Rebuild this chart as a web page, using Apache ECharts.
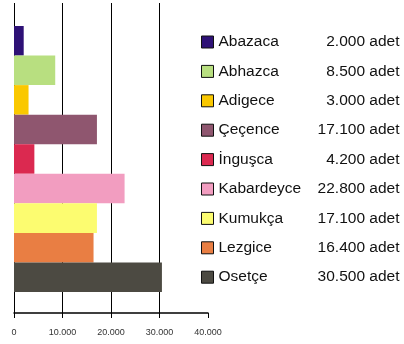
<!DOCTYPE html>
<html>
<head>
<meta charset="utf-8">
<script src="https://cdn.jsdelivr.net/npm/echarts@6/dist/echarts.min.js"></script>
<style>html,body{margin:0;padding:0;background:#fff}#c{width:404px;height:344px}</style>
</head>
<body>
<div id="c"></div>
<script>
const categories = ["Abazaca","Abhazca","Adigece","Çeçence","İnguşca","Kabardeyce","Kumukça","Lezgice","Osetçe"];
const values = [2000, 8500, 3000, 17100, 4200, 22800, 17100, 16400, 30500];
const valueLabels = ["2.000 adet","8.500 adet","3.000 adet","17.100 adet","4.200 adet","22.800 adet","17.100 adet","16.400 adet","30.500 adet"];
const colors = ["#2e1176","#b8df80","#fac800","#8f566f","#db2950","#f29dc0","#fcfc70","#e97e43","#4c4a42"];
const tickLabels = {0:"0",10000:"10.000",20000:"20.000",30000:"30.000",40000:"40.000"};

const chart = echarts.init(document.getElementById('c'));
const series = categories.map((name, i) => ({
  name: name,
  type: 'bar',
  xAxisIndex: 1,
  yAxisIndex: 1,
  stack: 'all',
  barWidth: '100%',
  itemStyle: { color: colors[i] },
  data: categories.map((c, j) => j === i ? values[i] : '-'),
  silent: true
}));

chart.setOption({
  animation: false,
  color: colors,
  grid: [
    { left: 14, right: 196, top: 3, height: 310 },
    { left: 14, right: 196, top: 26, height: 266 }
  ],
  xAxis: [
    {
      gridIndex: 0, type: 'value', min: 0, max: 40000, interval: 10000,
      axisLine: { show: true, lineStyle: { color: '#000', width: 1.5 } },
      axisTick: { show: true, length: 5, lineStyle: { color: '#000' } },
      axisLabel: { margin: 15, fontFamily: 'Liberation Sans', fontSize: 9, color: '#333',
                   formatter: v => tickLabels[v] },
      splitLine: { show: true, showMaxLine: false, lineStyle: { color: '#000', width: 1 } }
    },
    {
      gridIndex: 1, type: 'value', min: 0, max: 40000, show: false,
      splitLine: { show: false }
    }
  ],
  yAxis: [
    { gridIndex: 0, type: 'value', show: false, splitLine: { show: false } },
    { gridIndex: 1, type: 'category', data: categories, inverse: true, show: false }
  ],
  legend: {
    orient: 'vertical',
    left: 196,
    top: 29,
    itemWidth: 12,
    itemHeight: 12,
    itemGap: 13.4,
    icon: 'rect',
    itemStyle: { borderColor: '#111', borderWidth: 1 },
    selectedMode: false,
    data: categories,
    formatter: name => {
      const i = categories.indexOf(name);
      return '{n|' + name + '}{v|' + valueLabels[i] + '}';
    },
    textStyle: {
      fontFamily: 'Liberation Sans',
      fontSize: 15.5,
      color: '#111',
      rich: {
        n: { width: 95, fontFamily: 'Liberation Sans', fontSize: 15.5, color: '#111', lineHeight: 16 },
        v: { width: 86, align: 'right', fontFamily: 'Liberation Sans', fontSize: 15.5, color: '#111', lineHeight: 16 }
      }
    }
  },
  series: series
});
</script>
</body>
</html>
